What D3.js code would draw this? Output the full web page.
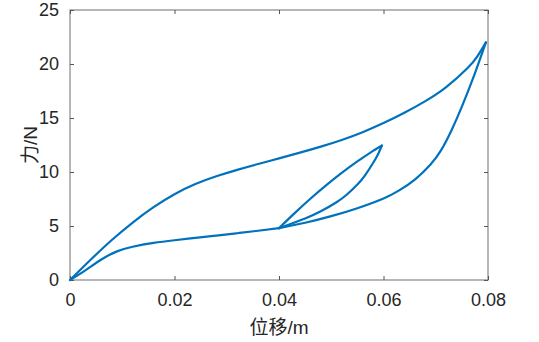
<!DOCTYPE html>
<html>
<head>
<meta charset="utf-8">
<script src="https://cdn.jsdelivr.net/npm/d3@7"></script>
<style>
  html, body { margin: 0; padding: 0; background: #fff; }
  svg { display: block; }
  text { font-family: "Liberation Sans", Arial, "Noto Sans CJK SC", sans-serif; fill: #262626; }
</style>
</head>
<body>
<svg id="chart" width="539" height="342"></svg>
<script>
// ---- data (displacement in m, force in N) ----
const loadDisp   = [0, 0.004, 0.008, 0.012, 0.016, 0.020, 0.024, 0.028, 0.032, 0.036, 0.040, 0.044, 0.048, 0.052, 0.056, 0.060, 0.064, 0.068, 0.072, 0.076, 0.078, 0.0796];
const loadForce  = [0, 1.9, 3.7, 5.32, 6.74, 7.94, 8.88, 9.6, 10.2, 10.74, 11.26, 11.79, 12.35, 12.97, 13.69, 14.53, 15.48, 16.56, 17.86, 19.58, 20.73, 22.0];

const unload1Disp  = [0.0796, 0.0785, 0.0770, 0.0750, 0.0730, 0.0710, 0.0690, 0.0660, 0.0630, 0.0600, 0.0550, 0.0500, 0.0450, 0.0400];
const unload1Force = [22.0, 20.5, 18.5, 16.05, 13.85, 12.0, 10.7, 9.3, 8.3, 7.55, 6.65, 5.91, 5.3, 4.8];

const reloadDisp   = [0.040, 0.043, 0.046, 0.049, 0.052, 0.055, 0.0575, 0.0597];
const reloadForce  = [4.8, 6.19, 7.52, 8.76, 9.92, 10.98, 11.8, 12.45];

const unload2Disp  = [0.0597, 0.0590, 0.0580, 0.0565, 0.0550, 0.0530, 0.0510, 0.0480, 0.0450, 0.0400];
const unload2Force = [12.45, 11.7, 10.83, 9.72, 8.84, 7.92, 7.2, 6.36, 5.7, 4.8];

const finalDisp    = [0.040, 0.036, 0.032, 0.028, 0.024, 0.020, 0.016, 0.012, 0.009, 0.006, 0.003, 0];
const finalForce   = [4.8, 4.56, 4.33, 4.11, 3.9, 3.68, 3.43, 3.08, 2.65, 1.9, 0.92, 0];

const xTicks = [0, 0.02, 0.04, 0.06, 0.08];
const xTickLabels = ["0", "0.02", "0.04", "0.06", "0.08"];
const yTicks = [0, 5, 10, 15, 20, 25];
const yTickLabels = ["0", "5", "10", "15", "20", "25"];
const xLabel = "位移/m";
const yLabel = "力/N";

// ---- layout ----
const svg = d3.select("#chart");
const L = 70, R = 488, T = 10, B = 280;
const x = d3.scaleLinear().domain([0, 0.08]).range([L, R]);
const y = d3.scaleLinear().domain([0, 25]).range([B, T]);
const axisColor = "#868686";
const fontSize = 18;

// box
svg.append("rect").attr("x", L).attr("y", T).attr("width", R - L).attr("height", B - T)
  .attr("fill", "none").attr("stroke", axisColor).attr("stroke-width", 1.2);

// axes with inward ticks
const tickLen = 4;
const xAxisB = d3.axisBottom(x).tickValues(xTicks).tickFormat((d, i) => xTickLabels[i]).tickSizeInner(-tickLen).tickSizeOuter(0).tickPadding(13);
const xAxisT = d3.axisTop(x).tickValues(xTicks).tickFormat("").tickSizeInner(-tickLen).tickSizeOuter(0);
const yAxisL = d3.axisLeft(y).tickValues(yTicks).tickFormat((d, i) => yTickLabels[i]).tickSizeInner(-tickLen).tickSizeOuter(0).tickPadding(11);
const yAxisR = d3.axisRight(y).tickValues(yTicks).tickFormat("").tickSizeInner(-tickLen).tickSizeOuter(0);

function style(g) {
  g.select(".domain").remove();
  g.selectAll(".tick line").attr("stroke", "#555").attr("stroke-width", 1);
  g.selectAll(".tick text").attr("fill", "#262626").style("font-size", fontSize + "px")
    .style("font-family", '"Liberation Sans", Arial, sans-serif');
}
svg.append("g").attr("transform", `translate(0,${B})`).call(xAxisB).call(style);
svg.append("g").attr("transform", `translate(0,${T})`).call(xAxisT).call(style);
svg.append("g").attr("transform", `translate(${L},0)`).call(yAxisL).call(style);
svg.append("g").attr("transform", `translate(${R},0)`).call(yAxisR).call(style);

// curves
const line = d3.line().x(d => x(d[0])).y(d => y(d[1])).curve(d3.curveNatural);
const branches = [
  [loadDisp, loadForce],
  [unload1Disp, unload1Force],
  [reloadDisp, reloadForce],
  [unload2Disp, unload2Force],
  [finalDisp, finalForce]
];
branches.forEach(([xs, fs]) => {
  svg.append("path").datum(xs.map((v, i) => [v, fs[i]]))
    .attr("d", line).attr("fill", "none")
    .attr("stroke", "#0072BD").attr("stroke-width", 2.2)
    .attr("stroke-linejoin", "round").attr("stroke-linecap", "round");
});

// labels
svg.append("text").attr("x", (L + R) / 2).attr("y", 334).attr("text-anchor", "middle")
  .style("font-size", "19px").style("font-family", '"Liberation Sans", Arial, "Noto Sans CJK SC", sans-serif')
  .text(xLabel);
svg.append("text").attr("transform", `translate(37,${(T + B) / 2}) rotate(-90)`).attr("text-anchor", "middle")
  .style("font-size", "19px").style("font-family", '"Liberation Sans", Arial, "Noto Sans CJK SC", sans-serif')
  .text(yLabel);
</script>
</body>
</html>
